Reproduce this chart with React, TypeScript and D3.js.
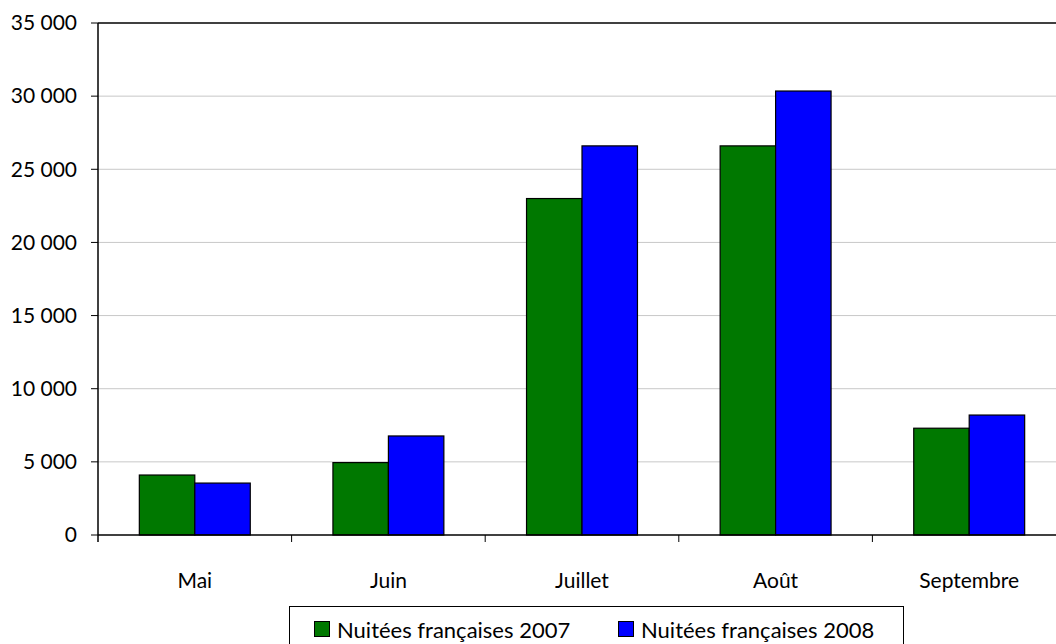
import React from "react";
import * as d3 from "d3";

const categories = ["Mai", "Juin", "Juillet", "Août", "Septembre"];
const series2007 = [4100, 4950, 23000, 26600, 7300];
const series2008 = [3550, 6770, 26600, 30350, 8200];
const seriesNames = ["Nuitées françaises 2007", "Nuitées françaises 2008"];
const seriesColors = ["#007800", "#0000ff"];
const yTicks = [0, 5000, 10000, 15000, 20000, 25000, 30000, 35000];

const FONT = "Lato, 'Open Sans', sans-serif";

export default function App() {
  const left = 98, top = 23, bottom = 535;
  const bandW = 193.6;
  const right = left + bandW * categories.length;
  const x = d3.scaleBand<string>().domain(categories).range([left, right]).paddingInner(0.427).paddingOuter(0.2135);
  const y = d3.scaleLinear().domain([0, 35000]).range([bottom, top]);
  const bw = x.bandwidth() / 2;
  const fmt = (v: number) => d3.format(",")(v).replace(/,/g, " ");
  const all = [series2007, series2008];
  return (
    <svg width={1056} height={644} style={{ position: "absolute", left: 0, top: 0, background: "#fff" }}>
      {yTicks.map((t) => (
        <g key={t}>
          {t > 0 && t < 35000 && (
            <line x1={left} x2={right} y1={y(t)} y2={y(t)} stroke="#c8c8c8" strokeWidth={1} />
          )}
          <line x1={left - 7} x2={left} y1={y(t)} y2={y(t)} stroke="#000" />
          <text x={77} y={y(t)} dy="0.35em" textAnchor="end" fontFamily={FONT} fontSize={21} fill="#000">
            {fmt(t)}
          </text>
        </g>
      ))}
      <line x1={left} x2={right} y1={y(35000)} y2={y(35000)} stroke="#000" strokeWidth={1.5} />
      {categories.map((c, i) =>
        all.map((s, j) => (
          <rect
            key={c + j}
            x={(x(c) as number) + j * bw}
            y={y(s[i])}
            width={bw}
            height={bottom - y(s[i])}
            fill={seriesColors[j]}
            stroke="#000"
            strokeWidth={1.2}
          />
        ))
      )}
      <line x1={left} x2={left} y1={top} y2={bottom + 7} stroke="#000" strokeWidth={1.5} />
      <line x1={left} x2={right} y1={bottom} y2={bottom} stroke="#000" strokeWidth={1.5} />
      {categories.map((c, i) => (
        <g key={c}>
          <line x1={left + bandW * (i + 1)} x2={left + bandW * (i + 1)} y1={bottom} y2={bottom + 7} stroke="#000" />
          <text x={left + bandW * (i + 0.5)} y={588} textAnchor="middle" fontFamily={FONT} fontSize={21} fill="#000">
            {c}
          </text>
        </g>
      ))}
      <rect x={289.5} y={606.5} width={614} height={50} fill="#fff" stroke="#000" strokeWidth={1} />
      {seriesNames.map((n, j) => (
        <g key={n}>
          <rect x={314.5 + j * 304} y={621.5} width={15} height={15} fill={seriesColors[j]} stroke="#000" strokeWidth={1} />
          <text x={337 + j * 304} y={638} fontFamily={FONT} fontSize={22} fill="#000">
            {n}
          </text>
        </g>
      ))}
    </svg>
  );
}
